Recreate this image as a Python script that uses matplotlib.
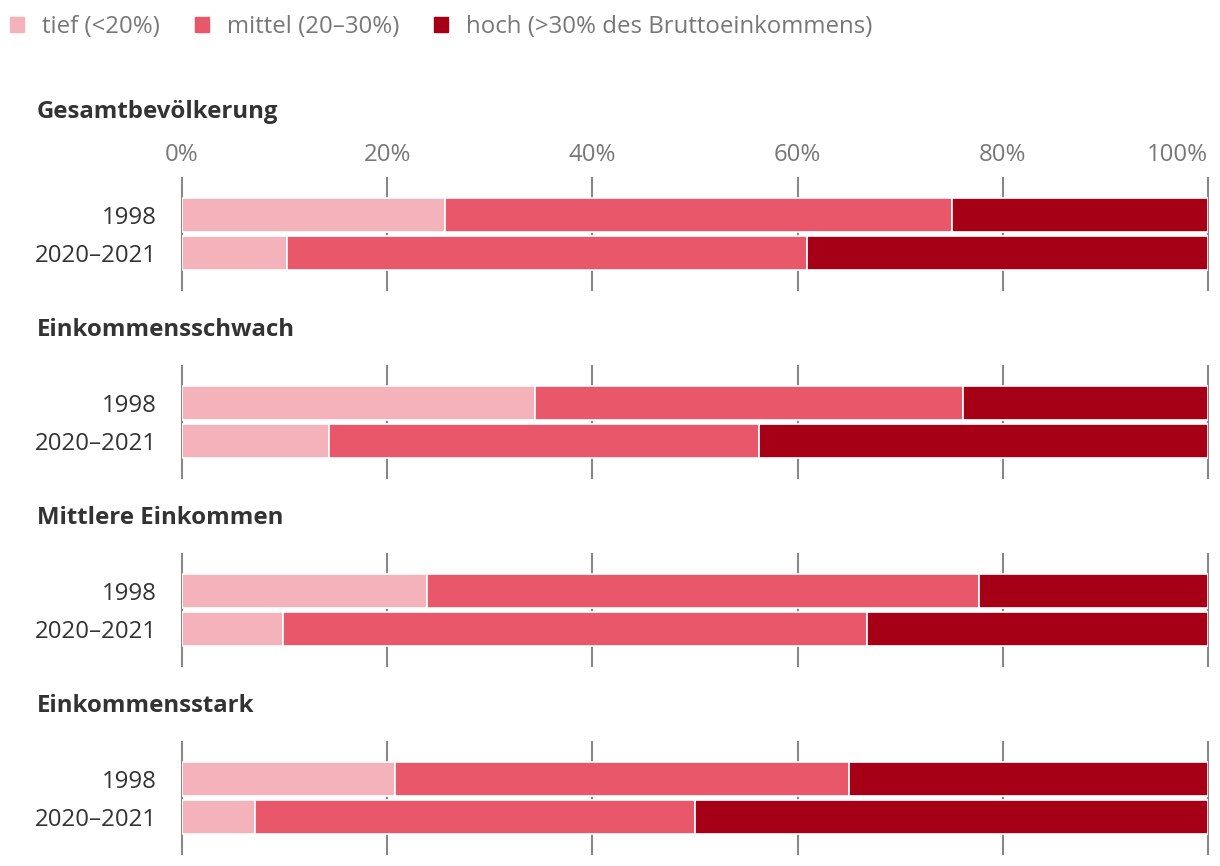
import matplotlib.pyplot as plt
from matplotlib.patches import Patch
import numpy as np

plt.rcParams['font.family'] = ['Open Sans', 'DejaVu Sans']

groups = ['Gesamtbevölkerung', 'Einkommensschwach', 'Mittlere Einkommen', 'Einkommensstark']
years = ['1998', '2020–2021']
# shares in % of each row: tief, mittel, hoch
tief = [[25.6, 10.2], [34.4, 14.3], [23.9, 9.8], [20.8, 7.1]]
mittel = [[49.4, 50.7], [41.7, 41.9], [53.8, 57.0], [44.2, 42.9]]
hoch = [[25.0, 39.1], [23.9, 43.8], [22.3, 33.2], [35.0, 50.0]]
series_names = ['tief (<20%)', 'mittel (20–30%)', 'hoch (>30% des Bruttoeinkommens)']
colors = ['#f4b3bb', '#e8576a', '#a50015']
ticks = [0, 20, 40, 60, 80, 100]

W, H = 1220, 866
fig = plt.figure(figsize=(W / 100, H / 100), dpi=100)
fs = 17.3

x0, x1 = 182, 1208
for i, g in enumerate(groups):
    top = 178 + i * 188
    ax = fig.add_axes([x0 / W, 1 - (top + 112) / H, (x1 - x0) / W, 112 / H])
    y = np.arange(len(years))
    left = np.zeros(len(years))
    for vals, c in zip([tief[i], mittel[i], hoch[i]], colors):
        ax.barh(y, vals, left=left, height=0.92, color=c, edgecolor='white',
                linewidth=1.2, zorder=2)
        left = left + np.array(vals)
    ax.set_xlim(0, 100)
    ax.set_ylim(1.974, -0.974)
    ax.set_yticks(y, years)
    ax.set_xticks(ticks)
    ax.grid(axis='x', color='#888888', linewidth=1.5, zorder=0)
    for gl in ax.get_xgridlines():
        gl.set_clip_on(False)
    for s in ax.spines.values():
        s.set_visible(False)
    ax.tick_params(axis='y', length=0, pad=18, labelsize=fs, labelcolor='#333333')
    if i == 0:
        ax.tick_params(axis='x', length=0, top=True, labeltop=True,
                       bottom=False, labelbottom=False, labelsize=fs,
                       labelcolor='#777777', pad=8)
        ax.set_xticklabels([f'{t}%' for t in ticks])
        ax.get_xticklabels()[-1].set_ha('right')
        title_y = top - 66
    else:
        ax.tick_params(axis='x', length=0, bottom=False, labelbottom=False)
        title_y = top - 36
    fig.text(37 / W, 1 - title_y / H, g, fontsize=fs, fontweight='bold',
             color='#333333', va='center', ha='left')

handles = [Patch(color=c, label=n) for c, n in zip(colors, series_names)]
fig.legend(handles=handles, loc='center left', bbox_to_anchor=(10 / W, 1 - 27 / H),
           ncol=3, frameon=False, fontsize=fs, labelcolor='#777777',
           handlelength=0.6, handleheight=0.6, handletextpad=0.74,
           columnspacing=1.44, borderaxespad=0, borderpad=0)

fig.savefig('out.png', dpi=100)
